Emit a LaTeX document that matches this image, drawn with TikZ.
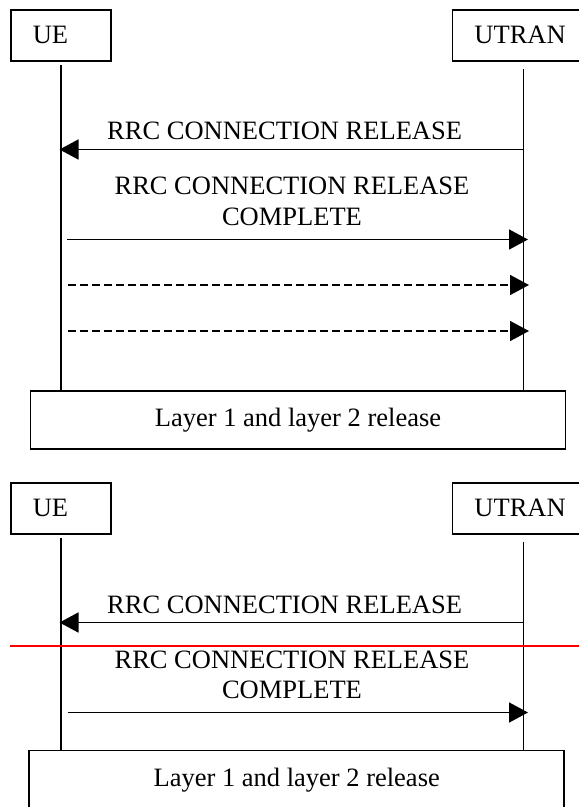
\documentclass[tikz,border=0pt]{standalone}
\usepackage{fontspec}
\setmainfont{Liberation Serif}
\usetikzlibrary{arrows.meta}
\definecolor{cutred}{RGB}{255,0,0}
\begin{document}
\begin{tikzpicture}[x=1pt, y=-1pt,
  every node/.style={font=\fontsize{26.5}{30.5}\selectfont},
  entity/.style={draw, line width=1.5pt, anchor=north west, minimum height=51pt,
    inner xsep=22pt, inner ysep=0pt, text width=#1, align=left},
  relbox/.style={draw, line width=1.5pt, minimum width=535pt, minimum height=58pt, inner sep=0pt},
  life/.style={line width=1.5pt},
  msg/.style={line width=1.6pt, -{Triangle[length=19pt,width=20pt]}},
  optmsg/.style={msg, dash pattern=on 8pt off 4pt},
  msglabel/.style={anchor=south, inner sep=0pt, align=center},
  cutline/.style={cutred, line width=1.6pt}
]
\useasboundingbox (0,0) rectangle (579,807);
\clip (0,0) rectangle (579,807);

% ---------------- first exchange ----------------
\node[entity=56pt]  (ueA)   at (10,9)    {UE};
\node[entity=116pt] (utrA)  at (451.7,9) {UTRAN};
\node[relbox] (relA) at (298,420.2) {Layer 1 and layer 2 release};

\coordinate (ueAtop)  at (61,65);
\coordinate (utrAtop) at (523.5,69);
\draw[life] (ueAtop)  -- (ueAtop  |- relA.north);
\draw[life] (utrAtop) -- (utrAtop |- relA.north);

% RRC CONNECTION RELEASE (downlink)
\coordinate (a1s) at (523.5,149.5);
\coordinate (a1e) at (59.5,149.5);
\draw[msg] (a1s) -- (a1e);
\node[msglabel] (a1l) at (284.6,140) {RRC CONNECTION RELEASE};

% RRC CONNECTION RELEASE COMPLETE (uplink)
\coordinate (a2s) at (67,239.5);
\coordinate (a2e) at (528,239.5);
\draw[msg] (a2s) -- (a2e);
\node[msglabel] (a2l) at (292,225.7) {RRC CONNECTION RELEASE\\COMPLETE};

% repeated transmissions
\coordinate (a3s) at (68,285);
\coordinate (a3e) at (529,285);
\draw[optmsg] (a3s) -- (a3e);
\coordinate (a4s) at (68,331);
\coordinate (a4e) at (529,331);
\draw[optmsg] (a4s) -- (a4e);

% ---------------- second exchange ----------------
\node[entity=56pt]  (ueB)   at (10,482)    {UE};
\node[entity=116pt] (utrB)  at (451.7,482) {UTRAN};
\node[relbox] (relB) at (296.7,779.7) {Layer 1 and layer 2 release};

\coordinate (ueBtop)  at (61,538);
\coordinate (utrBtop) at (523.5,542);
\draw[life] (ueBtop)  -- (ueBtop  |- relB.north);
\draw[life] (utrBtop) -- (utrBtop |- relB.north);

\coordinate (b1s) at (523.5,622.5);
\coordinate (b1e) at (59.5,622.5);
\draw[msg] (b1s) -- (b1e);
\node[msglabel] (b1l) at (284.6,614.3) {RRC CONNECTION RELEASE};

% separator
\coordinate (cutL) at (10,646);
\coordinate (cutR) at (579,646);
\draw[cutline] (cutL) -- (cutR);

\coordinate (b2s) at (67.7,712.5);
\coordinate (b2e) at (528,712.5);
\draw[msg] (b2s) -- (b2e);
\node[msglabel] (b2l) at (292,699.3) {RRC CONNECTION RELEASE\\COMPLETE};
\end{tikzpicture}
\end{document}
